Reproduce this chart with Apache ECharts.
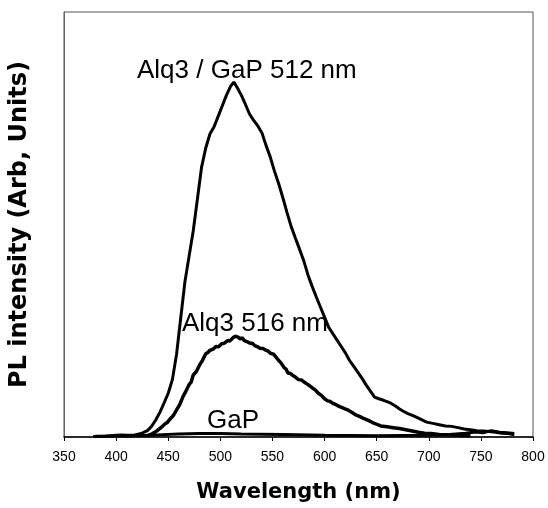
<!DOCTYPE html>
<html>
<head>
<meta charset="utf-8">
<script src="https://cdn.jsdelivr.net/npm/echarts@6/dist/echarts.min.js"></script>
<style>
html,body{margin:0;padding:0;background:#fff;}
#chart{width:548px;height:508px;}
</style>
</head>
<body>
<div id="chart"></div>
<script>
// Wavelength ticks (nm)
var xTicks = [350, 400, 450, 500, 550, 600, 650, 700, 750, 800];

// Alq3 / GaP (peak 512 nm) : [wavelength nm, PL intensity arb.]
var alqGaP = [
  [378,0.1],[390,0.2],[400,0.4],[405,0.5],[410,0.4],[418,0.5],[425,0.9],[430,1.5],
  [434,2.5],[438,4.0],[442,5.8],[446,8.0],[450,10.3],[454,13.5],[458,19.5],[462,28.0],
  [466,36.5],[470,42.5],[474,48.5],[478,56.0],[482,63.5],[486,68.0],[490,71.3],[494,73.0],
  [498,75.5],[502,78.0],[506,80.5],[510,82.6],[513,83.5],[516,82.3],[520,80.5],[524,78.3],
  [528,76.0],[532,74.5],[536,73.2],[540,71.5],[544,68.5],[548,65.8],[552,62.5],[556,59.6],
  [560,56.3],[564,52.8],[568,49.5],[572,46.8],[576,44.2],[580,41.5],[584,38.2],[588,35.5],
  [592,33.0],[596,30.6],[600,28.2],[604,25.8],[608,24.3],[612,22.8],[616,21.3],[620,19.8],
  [624,18.0],[628,16.6],[632,15.2],[636,13.8],[640,12.2],[644,10.8],[648,9.4],[652,9.0],
  [656,8.7],[660,8.3],[664,7.9],[668,7.3],[672,6.6],[676,6.0],[680,5.5],[686,4.9],
  [692,4.2],[698,3.5],[704,3.2],[710,2.9],[716,2.6],[722,2.5],[728,2.2],[734,1.9],
  [740,1.7],[746,1.5],[752,1.4],[758,1.3],[764,1.1],[770,0.9],[776,0.8],[782,0.5]
];

// Alq3 (peak 516 nm)
var alq3 = [
  [430,0.3],[434,0.7],[437,1.1],[440,1.6],[443,2.2],[446,2.9],[449,3.4],[452,4.3],
  [455,5.1],[458,6.4],[461,7.6],[464,9.4],[467,10.8],[470,12.3],[472,12.9],[474,14.6],
  [477,15.4],[480,16.9],[483,18.1],[486,19.6],[488,19.9],[490,20.4],[493,20.7],[496,21.3],
  [498,21.2],[501,21.9],[504,22.1],[507,22.7],[509,22.6],[512,23.3],[514,23.7],[517,23.5],
  [519,23.1],[521,23.3],[523,22.7],[526,22.4],[528,22.1],[531,22.0],[533,21.5],[536,21.2],
  [538,20.9],[541,20.8],[543,20.5],[546,20.2],[548,19.7],[551,19.5],[553,18.9],[556,18.0],
  [558,17.5],[561,16.4],[563,16.0],[565,15.0],[567,15.0],[570,14.4],[572,14.1],[575,13.5],
  [578,13.4],[580,13.0],[583,12.5],[586,12.0],[588,11.6],[591,11.1],[594,10.3],[597,9.8],
  [600,9.0],[603,8.5],[605,8.4],[608,7.9],[611,7.6],[614,7.2],[618,6.8],[622,6.4],
  [626,5.8],[630,5.2],[634,4.8],[638,4.3],[642,3.9],[646,3.4],[650,3.0],[654,2.6],
  [660,2.4],[666,2.2],[672,2.0],[678,1.7],[684,1.4],[690,1.1],[696,0.9],[702,0.8],
  [710,0.6],[720,0.5],[730,0.4],[740,0.3]
];

// GaP substrate (near baseline)
var gap = [
  [380,0.2],[420,0.3],[440,0.5],[460,0.7],[480,0.8],[500,0.8],[520,0.7],[560,0.6],
  [600,0.4],[650,0.3],[700,0.4],[720,0.6],[735,0.9],[745,1.2],[752,1.0],[760,1.5],
  [768,1.1],[775,1.0],[782,0.8]
];

// Annotation texts
var labels = ['Alq3 / GaP 512 nm', 'Alq3 516 nm', 'GaP'];

var chart = echarts.init(document.getElementById('chart'), null, {renderer: 'canvas'});

var lineSeries = function (name, data, w) {
  return {
    name: name, type: 'line', data: data, showSymbol: false, symbol: 'none',
    smooth: false, lineStyle: {color: '#000', width: w}, silent: true, z: 3
  };
};

var option = {
  backgroundColor: '#fff',
  animation: false,
  grid: {
    left: 61, right: 15, top: 12, bottom: 71,
    show: true, borderColor: '#555', borderWidth: 1, backgroundColor: 'transparent'
  },
  xAxis: {
    type: 'value', min: 350, max: 800, interval: 50,
    name: 'Wavelength (nm)', nameLocation: 'middle', nameGap: 45,
    nameTextStyle: {fontFamily: 'DejaVu Sans', fontWeight: 'bold', fontSize: 21, color: '#000'},
    axisLine: {show: true, lineStyle: {color: '#000', width: 1.5}},
    axisTick: {show: true, inside: false, length: 4, lineStyle: {color: '#000'}},
    axisLabel: {
      margin: 13, fontFamily: 'Liberation Sans', fontSize: 14, color: '#000',
      formatter: function (v) { return xTicks.indexOf(v) >= 0 ? String(v) : ''; }
    },
    splitLine: {show: false}
  },
  yAxis: {
    type: 'value', min: 0, max: 100,
    name: 'PL intensity (Arb, Units)', nameLocation: 'middle', nameGap: 32,
    nameTextStyle: {fontFamily: 'DejaVu Sans', fontWeight: 'bold', fontSize: 24, color: '#000'},
    axisLine: {show: true, lineStyle: {color: '#666', width: 1}},
    axisTick: {show: false},
    axisLabel: {show: false},
    splitLine: {show: false}
  },
  series: [
    lineSeries('GaP', gap, 3),
    lineSeries('Alq3', alq3, 3.5),
    lineSeries('Alq3 / GaP', alqGaP, 3)
  ],
  graphic: [
    {type: 'text', left: 137, top: 58, z: 10,
     style: {text: labels[0], font: '26px "Liberation Sans"', fill: '#000'}},
    {type: 'text', left: 182, top: 311, z: 10,
     style: {text: labels[1], font: '26px "Liberation Sans"', fill: '#000'}},
    {type: 'text', left: 207, top: 408, z: 10,
     style: {text: labels[2], font: '26px "Liberation Sans"', fill: '#000'}}
  ]
};
chart.setOption(option);
</script>
</body>
</html>
